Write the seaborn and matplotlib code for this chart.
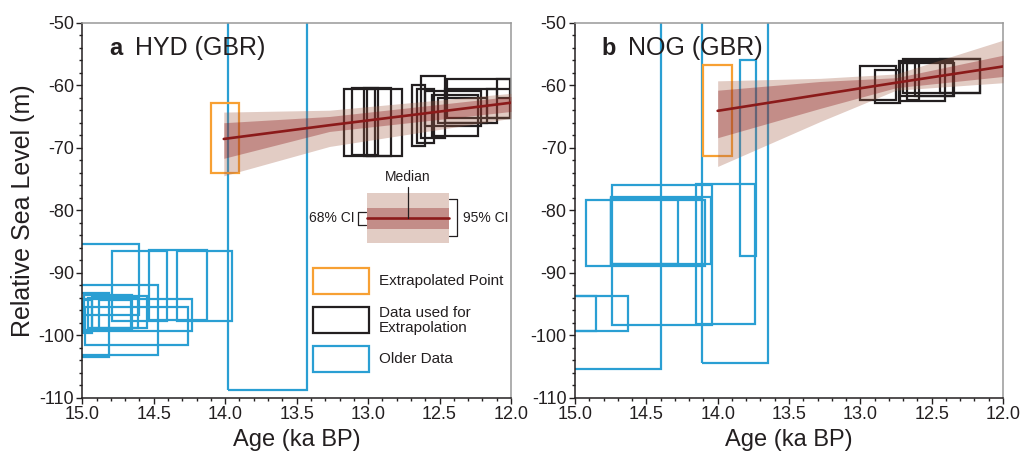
import numpy as np
import pandas as pd
import matplotlib
matplotlib.use('Agg')
import matplotlib.pyplot as plt
import seaborn as sns
from matplotlib.patches import Rectangle
from matplotlib.ticker import MultipleLocator

# colours
BLUE = '#2a9fd3'
ORANGE = '#f7a033'
BLACK = '#231f20'
MED = '#8b1a1a'
BAND = '#a5614a'

# boxes: (older age, younger age, lower RSL, upper RSL)
hyd_extrap = [(14.10, 13.90, -74.1, -62.9)]
hyd_used = [
    (13.17, 12.95, -71.4, -60.6),
    (13.11, 12.93, -71.2, -60.4),
    (13.03, 12.84, -71.4, -60.4),
    (13.01, 12.76, -71.4, -60.6),
    (12.69, 12.60, -69.8, -59.9),
    (12.66, 12.54, -69.3, -60.6),
    (12.63, 12.46, -68.5, -58.6),
    (12.60, 12.21, -66.6, -61.0),
    (12.55, 12.23, -68.2, -61.6),
    (12.51, 12.17, -66.1, -62.1),
    (12.45, 12.01, -65.3, -59.0),
    (12.46, 12.10, -66.1, -60.6),
    (12.17, 11.95, -65.3, -60.6),
    (12.10, 11.90, -62.0, -59.0),
]
hyd_older = [
    (15.05, 14.60, -96.8, -85.4),
    (14.79, 14.41, -97.7, -86.6),
    (14.53, 14.13, -97.5, -86.3),
    (14.34, 13.95, -97.7, -86.6),
    (15.05, 14.47, -103.2, -91.9),
    (15.05, 14.81, -103.5, -93.2),
    (15.05, 14.23, -99.3, -94.2),
    (14.98, 14.26, -101.6, -95.5),
    (14.99, 14.65, -99.2, -93.6),
    (14.96, 14.61, -98.9, -94.0),
    (14.93, 14.55, -98.9, -93.8),
    (14.88, 14.66, -99.2, -94.4),
    (15.00, 14.93, -99.6, -94.4),
    (13.98, 13.43, -108.7, -40.0),
]

nog_extrap = [(14.10, 13.90, -71.4, -56.7)]
nog_used = [
    (13.00, 12.75, -62.4, -56.9),
    (12.90, 12.72, -62.8, -57.5),
    (12.73, 12.41, -62.5, -56.1),
    (12.72, 12.34, -61.8, -56.4),
    (12.70, 12.16, -61.3, -55.8),
    (12.67, 12.59, -62.4, -56.4),
    (12.62, 12.35, -61.8, -56.1),
    (12.44, 12.16, -61.3, -55.8),
]
nog_older = [
    (15.30, 14.40, -105.4, -40.0),
    (14.11, 13.65, -104.5, -40.0),
    (13.84, 13.73, -87.3, -56.0),
    (14.74, 14.04, -98.4, -76.0),
    (14.15, 13.74, -98.2, -75.8),
    (14.92, 14.09, -88.9, -78.3),
    (14.75, 14.05, -88.6, -77.9),
    (14.75, 14.28, -88.6, -78.2),
    (14.75, 14.11, -88.8, -78.0),
    (15.05, 14.63, -99.3, -93.8),
    (15.05, 14.85, -99.3, -93.8),
]

# extrapolation median and credible intervals
hyd_age = [14.01, 13.27, 12.0]
hyd_med = [-68.6, -66.4, -62.8]
hyd_lo68 = [-71.7, -67.4, -64.2]
hyd_hi68 = [-66.0, -65.0, -61.8]
hyd_lo95 = [-74.5, -69.8, -65.3]
hyd_hi95 = [-64.3, -64.0, -61.3]

nog_age = [14.00, 13.28, 12.75, 12.0]
nog_med = [-64.1, -61.5, -59.6, -57.0]
nog_lo68 = [-68.4, -63.7, -60.4, -58.6]
nog_hi68 = [-60.8, -59.4, -58.8, -55.2]
nog_lo95 = [-73.0, -65.8, -60.8, -59.6]
nog_hi95 = [-59.3, -58.9, -58.2, -52.8]

sns.set_theme(style="ticks")
plt.rcParams['font.family'] = ['Liberation Sans', 'DejaVu Sans']
plt.rcParams['axes.unicode_minus'] = False
plt.rcParams['text.color'] = BLACK
plt.rcParams['axes.labelcolor'] = BLACK
plt.rcParams['xtick.color'] = BLACK
plt.rcParams['ytick.color'] = BLACK

fig = plt.figure(figsize=(10.24, 4.59), dpi=100)
ax_a = fig.add_axes([0.0804, 0.1336, 0.4186, 0.8169])
ax_b = fig.add_axes([0.5615, 0.1336, 0.4180, 0.8169])


def draw_boxes(ax, boxes, color):
    for x0, x1, y0, y1 in boxes:
        ax.add_patch(Rectangle((x0, y0), x1 - x0, y1 - y0, fill=False,
                               edgecolor=color, lw=1.6, zorder=2))


def draw_panel(ax, older, used, extrap, age, med, lo68, hi68, lo95, hi95, letter, name):
    draw_boxes(ax, older, BLUE)
    draw_boxes(ax, used, BLACK)
    draw_boxes(ax, extrap, ORANGE)
    ax.fill_between(age, lo95, hi95, color=BAND, alpha=0.32, lw=0, zorder=3)
    ax.fill_between(age, lo68, hi68, color=MED, alpha=0.35, lw=0, zorder=3)
    df = pd.DataFrame({'age': age, 'rsl': med})
    sns.lineplot(data=df, x='age', y='rsl', ax=ax, color=MED, lw=1.9, zorder=4)

    ax.set_xlim(15, 12)
    ax.set_ylim(-110, -50)
    ax.xaxis.set_major_locator(MultipleLocator(0.5))
    ax.xaxis.set_minor_locator(MultipleLocator(0.1))
    ax.yaxis.set_major_locator(MultipleLocator(10))
    ax.yaxis.set_minor_locator(MultipleLocator(2))
    ax.xaxis.set_major_formatter(matplotlib.ticker.FormatStrFormatter('%.1f'))
    ax.tick_params(which='major', length=4, width=1, labelsize=13, color=BLACK, pad=2)
    ax.tick_params(which='minor', length=2.5, width=1, color=BLACK)
    for s in ['left', 'bottom']:
        ax.spines[s].set_color(BLACK)
        ax.spines[s].set_linewidth(1.1)
    for s in ['top', 'right']:
        ax.spines[s].set_visible(True)
        ax.spines[s].set_color('#999999')
        ax.spines[s].set_linewidth(1.1)
    ax.set_xlabel('Age (ka BP)', fontsize=17, labelpad=4)
    ax.set_ylabel('')
    ax.text(0.063, 0.914, letter, transform=ax.transAxes, fontsize=17,
            fontweight='bold', ha='left', va='baseline')
    ax.text(0.123, 0.914, name, transform=ax.transAxes, fontsize=18,
            ha='left', va='baseline')


draw_panel(ax_a, hyd_older, hyd_used, hyd_extrap, hyd_age, hyd_med,
           hyd_lo68, hyd_hi68, hyd_lo95, hyd_hi95, 'a', 'HYD (GBR)')
draw_panel(ax_b, nog_older, nog_used, nog_extrap, nog_age, nog_med,
           nog_lo68, nog_hi68, nog_lo95, nog_hi95, 'b', 'NOG (GBR)')
ax_a.set_ylabel('Relative Sea Level (m)', fontsize=18, labelpad=2)

# legend: credible interval sketch
T = ax_a.transAxes
ax_a.add_patch(Rectangle((0.665, 0.412), 0.19, 0.133, transform=T, color=BAND, alpha=0.32, lw=0, zorder=5))
ax_a.add_patch(Rectangle((0.665, 0.450), 0.19, 0.055, transform=T, color=MED, alpha=0.35, lw=0, zorder=5))
ax_a.plot([0.665, 0.855], [0.478, 0.478], transform=T, color=MED, lw=1.9, zorder=6)
ax_a.plot([0.760, 0.760], [0.478, 0.561], transform=T, color=BLACK, lw=0.9, zorder=6)
ax_a.text(0.758, 0.570, 'Median', transform=T, fontsize=10, ha='center', va='bottom')
ax_a.plot([0.662, 0.644, 0.644, 0.662], [0.496, 0.496, 0.461, 0.461], transform=T, color=BLACK, lw=0.9)
ax_a.text(0.636, 0.478, '68% CI', transform=T, fontsize=10, ha='right', va='center')
ax_a.plot([0.856, 0.873, 0.873, 0.856], [0.529, 0.529, 0.431, 0.431], transform=T, color=BLACK, lw=0.9)
ax_a.text(0.887, 0.478, '95% CI', transform=T, fontsize=10, ha='left', va='center')

# legend: box types
legend_items = [(ORANGE, 'Extrapolated Point', 0.277), (BLACK, 'Data used for\nExtrapolation', 0.173),
                (BLUE, 'Older Data', 0.069)]
for col, lab, yb in legend_items:
    ax_a.add_patch(Rectangle((0.538, yb), 0.131, 0.068, transform=T, fill=False,
                             edgecolor=col, lw=1.6, zorder=5))
    ax_a.text(0.692, yb + 0.034, lab, transform=T, fontsize=11, ha='left', va='center',
              linespacing=1.1)

fig.savefig('out.png', dpi=100)
